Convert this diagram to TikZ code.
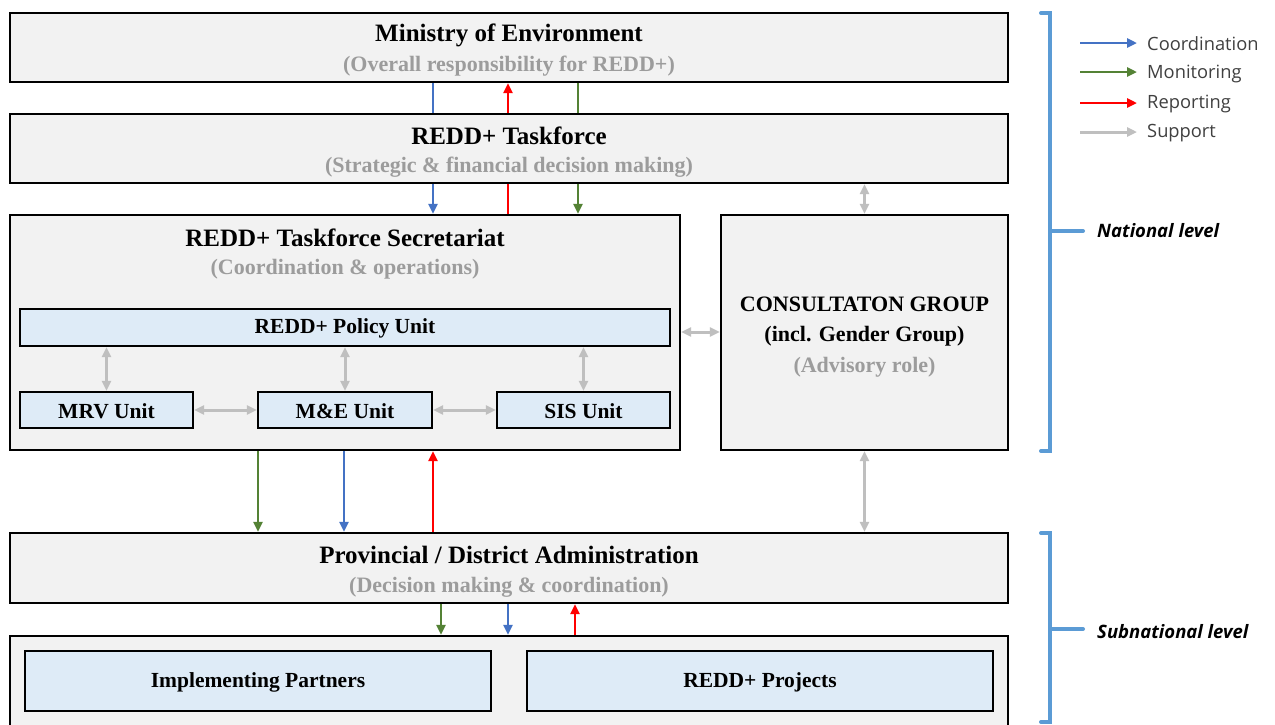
\documentclass[tikz,border=0pt]{standalone}
\usepackage{fontspec}
\setmainfont{Liberation Serif}
\newfontfamily\legendfont{Open Sans}
\usetikzlibrary{arrows.meta}
\definecolor{boxgray}{HTML}{F2F2F2}
\definecolor{boxblue}{HTML}{DEEBF7}
\definecolor{cblue}{HTML}{4472C4}
\definecolor{cgreen}{HTML}{548235}
\definecolor{cred}{HTML}{FF0000}
\definecolor{cgray}{HTML}{BFBFBF}
\definecolor{subgray}{HTML}{9C9C9C}
\definecolor{brblue}{HTML}{5B9BD5}
\definecolor{legtext}{HTML}{404040}
\tikzset{
  graybox/.style={draw=black, line width=2.4pt, fill=boxgray, inner sep=0pt},
  bluebox/.style={draw=black, line width=2.4pt, fill=boxblue, inner sep=0pt},
  ttl/.style={font=\bfseries\fontsize{25}{28}\selectfont, text=black, inner sep=0pt},
  capttl/.style={font=\bfseries\fontsize{22}{26}\selectfont, text=black, inner sep=0pt},
  sub/.style={font=\bfseries\fontsize{22}{26}\selectfont, text=subgray, inner sep=0pt},
  unit/.style={font=\bfseries\fontsize{21.5}{24}\selectfont, text=black, inner sep=0pt},
  tip/.style={-{Triangle[length=10pt,width=9pt]}},
  biptip/.style={{Triangle[length=10pt,width=9pt]}-{Triangle[length=10pt,width=9pt]}},
  coord/.style={draw=cblue, line width=2.6pt},
  monit/.style={draw=cgreen, line width=2.6pt},
  repo/.style={draw=cred, line width=2.6pt},
  supp/.style={draw=cgray, line width=3pt},
  brack/.style={draw=brblue, line width=4pt, line cap=round},
  legtxt/.style={font=\legendfont\fontsize{18.3}{21}\selectfont, text=legtext, anchor=west, inner sep=0pt},
  lvl/.style={font=\legendfont\bfseries\itshape\fontsize{18.5}{21}\selectfont, text=black, anchor=west, inner sep=0pt}
}
\begin{document}
\begin{tikzpicture}[x=1pt,y=-1pt]
\clip (0,0) rectangle (1275,724);
\fill[white] (0,0) rectangle (1275,724);

% boxes
\node[graybox, minimum width=998pt, minimum height=69pt] (min) at (509,47.5) {};
\node[graybox, minimum width=998pt, minimum height=69pt] (tf) at (509,148.5) {};
\node[graybox, minimum width=670pt, minimum height=235pt] (sec) at (345,332.5) {};
\node[graybox, minimum width=287pt, minimum height=235pt] (cg) at (864.5,332.5) {};
\node[graybox, minimum width=998pt, minimum height=70pt] (prov) at (509,568) {};
\node[graybox, minimum width=998pt, minimum height=110pt] (bot) at (509,691) {};

\node[bluebox, minimum width=650pt, minimum height=37pt] (pol) at (345,327.5) {};
\node[bluebox, minimum width=173pt, minimum height=36pt] (mrv) at (106.5,410) {};
\node[bluebox, minimum width=174pt, minimum height=36pt] (me) at (345,410) {};
\node[bluebox, minimum width=173pt, minimum height=36pt] (sis) at (583.5,410) {};
\node[bluebox, minimum width=466pt, minimum height=60pt] (imp) at (258,681) {};
\node[bluebox, minimum width=466pt, minimum height=60pt] (proj) at (760,681) {};

% texts
\node[ttl] (minT) at (509,35) {Ministry of Environment};
\node[sub] (minS) at (509,66) {(Overall responsibility for REDD+)};
\node[ttl] (tfT) at (509,136) {REDD+ Taskforce};
\node[sub] (tfS) at (509,167) {(Strategic \& financial decision making)};
\node[ttl] (secT) at (345,238) {REDD+ Taskforce Secretariat};
\node[sub] (secS) at (345,269) {(Coordination \& operations)};
\node[unit] (polT) at (345,328) {REDD+ Policy Unit};
\node[unit] (mrvT) at (106.5,411) {MRV Unit};
\node[unit] (meT) at (345,411) {M\&E Unit};
\node[unit] (sisT) at (583.5,411) {SIS Unit};
\node[capttl] (cgT1) at (864.5,304) {CONSULTATON GROUP};
\node[capttl] (cgT2) at (864.5,336) {(incl. Gender Group)};
\node[sub] (cgS) at (864.5,367) {(Advisory role)};
\node[ttl] (provT) at (509,555) {Provincial / District Administration};
\node[sub] (provS) at (509,587) {(Decision making \& coordination)};
\node[unit] (impT) at (258,682) {Implementing Partners};
\node[unit] (projT) at (760,682) {REDD+ Projects};

% Ministry <-> Taskforce
\draw[coord] (min.south -| 433,0) -- (tf.north -| 433,0);
\draw[repo, tip] (tf.north -| 508,0) -- (min.south -| 508,0);
\draw[monit] (min.south -| 578,0) -- (tf.north -| 578,0);
% Taskforce <-> Secretariat
\draw[coord, tip] (tf.south -| 433,0) -- (sec.north -| 433,0);
\draw[repo] (sec.north -| 508,0) -- (tf.south -| 508,0);
\draw[monit, tip] (tf.south -| 578,0) -- (sec.north -| 578,0);
% Secretariat <-> Provincial
\draw[monit, tip] (sec.south -| 258,0) -- (prov.north -| 258,0);
\draw[coord, tip] (sec.south -| 344,0) -- (prov.north -| 344,0);
\draw[repo, tip] (prov.north -| 433,0) -- (sec.south -| 433,0);
% Provincial <-> bottom
\draw[monit, tip] (prov.south -| 441,0) -- (bot.north -| 441,0);
\draw[coord, tip] (prov.south -| 508,0) -- (bot.north -| 508,0);
\draw[repo, tip] (bot.north -| 575,0) -- (prov.south -| 575,0);

% support
\draw[supp, biptip] (tf.south -| cg.north) -- (cg.north);
\draw[supp, biptip] (cg.south) -- (prov.north -| cg.south);
\draw[supp, biptip] (sec.east |- 0,332) -- (cg.west |- 0,332);
\draw[supp, biptip] (pol.south -| mrv.north) -- (mrv.north);
\draw[supp, biptip] (pol.south -| me.north) -- (me.north);
\draw[supp, biptip] (pol.south -| sis.north) -- (sis.north);
\draw[supp, biptip] (mrv.east) -- (me.west);
\draw[supp, biptip] (me.east) -- (sis.west);

% legend
\coordinate (l1a) at (1080,43); \coordinate (l1b) at (1137,43);
\coordinate (l2a) at (1080,72); \coordinate (l2b) at (1137,72);
\coordinate (l3a) at (1080,103); \coordinate (l3b) at (1137,103);
\coordinate (l4a) at (1080,132); \coordinate (l4b) at (1137,132);
\draw[coord, tip] (l1a) -- (l1b);
\draw[monit, tip] (l2a) -- (l2b);
\draw[repo, tip] (l3a) -- (l3b);
\draw[supp, tip] (l4a) -- (l4b);
\node[legtxt] (lg1) at (1147,44) {Coordination};
\node[legtxt] (lg2) at (1147,74) {Monitoring};
\node[legtxt] (lg3) at (1147,104) {Reporting};
\node[legtxt] (lg4) at (1147,133) {Support};

% brackets
\draw[brack] (1041,13) -- (1050,13) -- (1050,451) -- (1041,451);
\draw[brack] (1050,231) -- (1083,231);
\node[lvl] (nat) at (1097,231) {National level};
\draw[brack] (1041,533) -- (1050,533) -- (1050,722) -- (1041,722);
\draw[brack] (1050,629) -- (1083,629);
\node[lvl] (subn) at (1097,632) {Subnational level};
\end{tikzpicture}
\end{document}
